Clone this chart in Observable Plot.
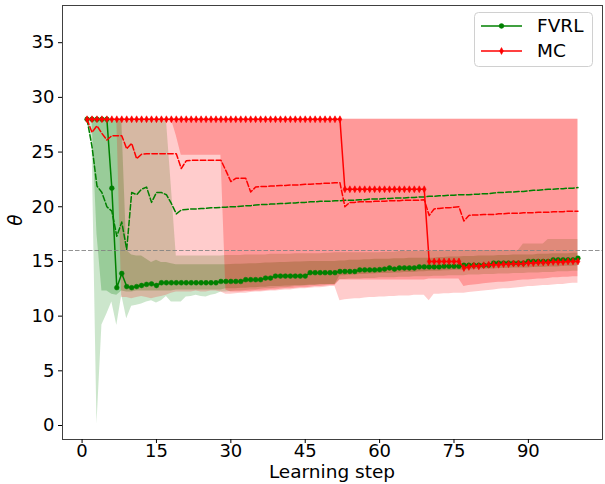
<!DOCTYPE html>
<html>
<head>
<meta charset="utf-8">
<script src="https://cdn.jsdelivr.net/npm/d3@7"></script>
<script src="https://cdn.jsdelivr.net/npm/@observablehq/plot@0.6"></script>
<style>
  html, body { margin: 0; padding: 0; background: #fff; }
  #chart { position: relative; width: 605px; height: 484px; }
</style>
</head>
<body>
<div id="chart"></div>
<script>
// Tick labels
const xTicks = [0, 15, 30, 45, 60, 75, 90];
const yTicks = [0, 5, 10, 15, 20, 25, 30, 35];
const threshold = 16;

// FVRL: median (solid), mean (dashed), outer and inner quantile bands
const fvrlMedian = [
  28, 28, 28, 28, 28, 21.7, 12.6, 13.9, 12.7, 12.6,
  12.7, 12.8, 12.9, 12.95, 12.8, 13.05, 13.05, 13.05, 13.05, 13.05,
  13.05, 13.05, 13.05, 13.05, 13.05, 13.05, 13.05, 13.17, 13.17, 13.17,
  13.17, 13.17, 13.33, 13.33, 13.33, 13.33, 13.48, 13.48, 13.66, 13.66,
  13.66, 13.66, 13.66, 13.66, 13.66, 13.97, 13.97, 13.97, 13.97, 13.97,
  13.97, 14.08, 14.08, 14.08, 14.08, 14.22, 14.22, 14.22, 14.22, 14.25,
  14.3, 14.4, 14.3, 14.4, 14.4, 14.4, 14.4, 14.5, 14.5, 14.5,
  14.5, 14.5, 14.55, 14.55, 14.55, 14.55, 14.65, 14.65, 14.65, 14.65,
  14.65, 14.65, 14.85, 14.85, 14.85, 14.85, 14.85, 14.85, 14.85, 15.0,
  15.0, 15.0, 15.0, 15.0, 15.15, 15.15, 15.15, 15.15, 15.15, 15.3
];
const fvrlMean = [
  28, 25.5, 21.9, 21.3, 20.0, 19.6, 17.3, 18.6, 16.1, 21.3,
  21.1, 21.6, 21.8, 20.4, 21.3, 21.3, 21.1, 20.3, 19.35, 19.7,
  19.75, 19.8, 19.8, 19.85, 19.85, 19.9, 19.9, 19.95, 19.95, 20.0,
  20.0, 20.05, 20.1, 20.1, 20.15, 20.2, 20.2, 20.25, 20.25, 20.3,
  20.3, 20.35, 20.35, 20.4, 20.4, 20.45, 20.45, 20.5, 20.5, 20.5,
  20.55, 20.55, 20.6, 20.6, 20.6, 20.65, 20.65, 20.7, 20.7, 20.7,
  20.75, 20.75, 20.8, 20.8, 20.8, 20.85, 20.85, 20.9, 20.9, 20.95,
  20.95, 21.0, 21.0, 21.05, 21.05, 21.1, 21.1, 21.1, 21.15, 21.15,
  21.2, 21.2, 21.25, 21.3, 21.3, 21.35, 21.35, 21.4, 21.4, 21.45,
  21.5, 21.5, 21.55, 21.6, 21.6, 21.65, 21.65, 21.7, 21.7, 21.75
];
const fvrlOuterHi = [
  28, 28, 28, 28, 28, 28, 28, 28, 28, 28,
  28, 28, 28, 28, 28, 28, 28, 21.8, 15.5, 15.5,
  15.5, 15.5, 15.5, 15.5, 15.5, 15.5, 15.5, 15.5, 15.55, 15.55,
  15.55, 15.55, 15.6, 15.6, 15.6, 15.6, 15.6, 15.65, 15.65, 15.65,
  15.65, 15.65, 15.7, 15.7, 15.7, 15.7, 15.7, 15.7, 15.75, 15.75,
  15.8, 15.8, 15.8, 15.8, 15.8, 15.8, 15.8, 15.8, 15.8, 15.8,
  15.85, 15.85, 15.85, 15.9, 15.9, 15.9, 15.9, 15.9, 15.9, 15.95,
  15.95, 15.95, 15.95, 15.95, 15.95, 16.0, 16.0, 16.0, 16.0, 16.0,
  16.0, 16.0, 16.0, 16.0, 16.0, 16.0, 16.0, 16.0, 16.6, 16.6,
  16.6, 16.6, 16.6, 17.0, 17.0, 17.0, 17.0, 17.0, 17.0, 17.0
];
const fvrlOuterLo = [
  28, 26, 0.11, 9.2, 10.2, 11.3, 9.15, 11.9, 9.75, 10.9,
  11.0, 11.1, 11.3, 11.4, 11.2, 11.4, 11.8, 11.3, 11.3, 11.3,
  11.75, 11.8, 11.9, 11.8, 11.75, 11.9, 12.0, 12.2, 12.2, 12.25,
  12.3, 12.3, 12.35, 12.4, 12.4, 12.45, 12.5, 12.5, 12.55, 12.6,
  12.6, 12.65, 12.7, 12.7, 12.75, 12.8, 12.8, 12.85, 12.85, 12.9,
  12.9, 13.35, 13.35, 13.4, 13.4, 13.4, 13.45, 13.45, 13.45, 13.5,
  13.5, 13.5, 13.5, 13.55, 13.55, 13.55, 13.6, 13.6, 13.6, 13.6,
  13.65, 13.65, 13.65, 13.7, 13.7, 13.7, 13.7, 13.75, 13.75, 13.75,
  13.8, 13.8, 13.8, 13.85, 13.85, 13.85, 13.9, 13.9, 13.9, 13.95,
  13.95, 13.95, 14.0, 14.0, 14.0, 14.05, 14.05, 14.05, 14.1, 14.1
];
const fvrlInnerHi = [
  28, 28, 28, 28, 28, 28, 28, 28, 16.0, 15.6,
  15.5, 15.5, 15.2, 14.9, 15.1, 14.9, 14.9, 14.8, 14.7, 14.7,
  14.7, 14.7, 14.7, 14.7, 14.7, 14.7, 14.7, 14.7, 14.7, 14.72,
  14.74, 14.75, 14.77, 14.8, 14.8, 14.82, 14.85, 14.85, 14.88, 14.9,
  14.9, 14.92, 14.95, 14.95, 14.97, 15.0, 15.0, 15.0, 15.0, 15.0,
  15.0, 15.05, 15.05, 15.1, 15.1, 15.1, 15.15, 15.15, 15.2, 15.2,
  15.2, 15.2, 15.25, 15.25, 15.25, 15.3, 15.3, 15.3, 15.3, 15.3,
  15.3, 15.35, 15.35, 15.4, 15.4, 15.4, 15.45, 15.45, 15.45, 15.5,
  15.5, 15.5, 15.5, 15.55, 15.55, 15.55, 15.6, 15.6, 15.6, 15.6,
  15.6, 15.65, 15.65, 15.65, 15.7, 15.7, 15.7, 15.7, 15.75, 15.75
];
const fvrlInnerLo = [
  28, 28, 17.5, 12.3, 12.3, 12.0, 11.9, 12.3, 12.2, 12.2,
  12.3, 12.3, 12.3, 12.3, 12.3, 12.3, 12.3, 12.3, 12.4, 12.4,
  12.4, 12.4, 12.4, 12.4, 12.4, 12.4, 12.4, 12.4, 12.5, 12.5,
  12.5, 12.55, 12.55, 12.6, 12.6, 12.65, 12.65, 12.7, 12.7, 12.7,
  12.75, 12.75, 12.8, 12.8, 12.8, 12.85, 12.85, 12.9, 12.9, 12.9,
  12.9, 13.7, 13.7, 13.75, 13.75, 13.8, 13.8, 13.85, 13.85, 13.9,
  13.9, 13.9, 13.95, 13.95, 14.0, 14.0, 14.0, 14.05, 14.05, 14.1,
  14.1, 14.1, 14.15, 14.15, 14.2, 14.2, 14.2, 14.25, 14.25, 14.3,
  14.3, 14.3, 14.3, 14.35, 14.35, 14.35, 14.4, 14.4, 14.4, 14.4,
  14.45, 14.45, 14.45, 14.5, 14.5, 14.5, 14.55, 14.55, 14.55, 14.6
];

// MC: median (solid), mean (dashed), outer and inner quantile bands
const mcMedian = [
  28, 28, 28, 28, 28, 28, 28, 28, 28, 28,
  28, 28, 28, 28, 28, 28, 28, 28, 28, 28,
  28, 28, 28, 28, 28, 28, 28, 28, 28, 28,
  28, 28, 28, 28, 28, 28, 28, 28, 28, 28,
  28, 28, 28, 28, 28, 28, 28, 28, 28, 28,
  28, 28, 21.6, 21.6, 21.6, 21.6, 21.6, 21.6, 21.6, 21.6,
  21.6, 21.6, 21.6, 21.6, 21.6, 21.6, 21.6, 21.6, 21.6, 15.0,
  15.0, 15.0, 15.0, 15.0, 15.0, 15.0, 14.4, 14.5, 14.6, 14.55,
  14.65, 14.7, 14.7, 14.7, 14.75, 14.75, 14.8, 14.8, 14.8, 14.85,
  14.85, 14.9, 14.9, 14.9, 14.95, 14.95, 14.95, 15.0, 15.0, 15.0
];
const mcMean = [
  28, 26.8, 27.4, 26.7, 26.1, 26.5, 26.5, 26.5, 25.3, 25.8,
  24.4, 24.8, 24.85, 24.85, 24.85, 24.85, 24.85, 24.85, 24.85, 23.5,
  24.2, 24.25, 24.25, 24.25, 24.25, 24.25, 24.25, 24.25, 23.3, 22.3,
  22.6, 22.6, 22.6, 21.35, 21.8, 21.85, 21.85, 21.9, 21.9, 21.95,
  21.95, 22.0, 22.0, 22.0, 22.05, 22.05, 22.1, 22.1, 22.15, 22.15,
  22.2, 22.2, 20.0, 20.4, 20.4, 20.45, 20.45, 20.45, 20.5, 20.5,
  20.5, 20.55, 20.55, 20.55, 20.6, 20.6, 20.6, 20.6, 20.65, 19.2,
  19.8, 19.85, 19.9, 19.9, 19.95, 20.0, 18.7, 19.2, 19.25, 19.25,
  19.3, 19.3, 19.3, 19.35, 19.35, 19.4, 19.4, 19.4, 19.45, 19.45,
  19.45, 19.5, 19.5, 19.5, 19.55, 19.55, 19.55, 19.6, 19.6, 19.6
];
const mcOuterHi = [
  28, 28, 28, 28, 28, 28, 28, 28, 28, 28,
  28, 28, 28, 28, 28, 28, 28, 28, 28, 28,
  28, 28, 28, 28, 28, 28, 28, 28, 28, 28,
  28, 28, 28, 28, 28, 28, 28, 28, 28, 28,
  28, 28, 28, 28, 28, 28, 28, 28, 28, 28,
  28, 28, 28, 28, 28, 28, 28, 28, 28, 28,
  28, 28, 28, 28, 28, 28, 28, 28, 28, 28,
  28, 28, 28, 28, 28, 28, 28, 28, 28, 28,
  28, 28, 28, 28, 28, 28, 28, 28, 28, 28,
  28, 28, 28, 28, 28, 28, 28, 28, 28, 28
];
const mcOuterLo = [
  28, 28, 28, 28, 28, 28, 28, 11.7, 11.7, 11.6,
  11.7, 11.8, 11.7, 11.6, 11.7, 11.8, 11.9, 12.1, 12.2, 12.2,
  12.2, 12.2, 12.3, 12.2, 12.2, 12.3, 12.3, 12.2, 12.0, 12.0,
  12.05, 12.1, 12.1, 12.15, 12.2, 12.2, 12.25, 12.3, 12.3, 12.35,
  12.4, 12.4, 12.45, 12.5, 12.5, 12.55, 12.6, 12.6, 12.65, 12.7,
  12.7, 11.4, 11.5, 11.55, 11.6, 11.6, 11.65, 11.7, 11.7, 11.75,
  11.75, 11.8, 11.8, 11.85, 11.85, 11.85, 11.9, 11.9, 11.9, 11.4,
  12.0, 12.0, 12.05, 12.05, 12.1, 12.1, 12.1, 12.15, 12.2, 12.25,
  12.3, 12.35, 12.4, 12.45, 12.5, 12.5, 12.55, 12.6, 12.65, 12.7,
  12.7, 12.75, 12.8, 12.8, 12.85, 12.9, 12.9, 12.95, 13.0, 13.0
];
const mcInnerHi = [
  28, 28, 28, 28, 28, 28, 28, 28, 28, 28,
  28, 28, 28, 28, 28, 28, 28, 28, 28, 28,
  28, 28, 28, 28, 28, 28, 28, 28, 28, 28,
  28, 28, 28, 28, 28, 28, 28, 28, 28, 28,
  28, 28, 28, 28, 28, 28, 28, 28, 28, 28,
  28, 28, 28, 28, 28, 28, 28, 28, 28, 28,
  28, 28, 28, 28, 28, 28, 28, 28, 28, 28,
  28, 28, 28, 28, 28, 28, 28, 28, 28, 28,
  28, 28, 28, 28, 28, 28, 28, 28, 28, 28,
  28, 28, 28, 28, 28, 28, 28, 28, 28, 28
];
const mcInnerLo = [
  28, 28, 28, 28, 28, 28, 28, 28, 28, 28,
  28, 28, 28, 28, 28, 28, 28, 28, 26.5, 24.7,
  24.7, 24.7, 24.7, 24.7, 24.7, 24.7, 24.7, 24.7, 12.4, 12.2,
  12.2, 12.2, 12.25, 12.25, 12.3, 12.3, 12.35, 12.4, 12.4, 12.45,
  12.5, 12.5, 12.55, 12.6, 12.6, 12.65, 12.7, 12.7, 12.75, 12.8,
  12.8, 13.3, 13.3, 13.3, 13.3, 13.3, 13.3, 13.3, 13.3, 13.3,
  13.3, 13.3, 13.3, 13.3, 13.3, 13.3, 13.3, 13.3, 13.3, 13.4,
  13.4, 13.4, 13.4, 13.4, 13.4, 13.4, 12.7, 12.8, 12.85, 12.9,
  12.95, 13.0, 13.05, 13.1, 13.1, 13.15, 13.2, 13.25, 13.3, 13.3,
  13.35, 13.4, 13.4, 13.45, 13.5, 13.5, 13.55, 13.55, 13.6, 13.6
];

const GREEN = "#008000";
const RED = "#ff0000";

// one row per learning step
const rows = fvrlMedian.map((_, i) => ({
  step: i + 1,
  fvrlMedian: fvrlMedian[i], fvrlMean: fvrlMean[i],
  fvrlOuterLo: fvrlOuterLo[i], fvrlOuterHi: fvrlOuterHi[i],
  fvrlInnerLo: fvrlInnerLo[i], fvrlInnerHi: fvrlInnerHi[i],
  mcMedian: mcMedian[i], mcMean: mcMean[i],
  mcOuterLo: mcOuterLo[i], mcOuterHi: mcOuterHi[i],
  mcInnerLo: mcInnerLo[i], mcInnerHi: mcInnerHi[i]
}));

// narrow diamond marker
const thinDiamond = {
  draw(context, size) {
    const r = Math.sqrt(size / Math.PI);
    const h = r * 1.15, w = r * 0.62;
    context.moveTo(0, -h);
    context.lineTo(w, 0);
    context.lineTo(0, h);
    context.lineTo(-w, 0);
    context.closePath();
  }
};

const dash = "5.5 2.4";

const chart = Plot.plot({
  width: 605,
  height: 484,
  marginLeft: 62,
  marginRight: 3,
  marginTop: 5,
  marginBottom: 45,
  style: { fontFamily: "DejaVu Sans", fontSize: "18px", color: "#000", background: "#fff" },
  x: { domain: [-3.95, 104.95] },
  y: { domain: [-1.28, 38.4] },
  marks: [
    Plot.areaY(rows, { x: "step", y1: "fvrlOuterLo", y2: "fvrlOuterHi", fill: GREEN, fillOpacity: 0.2 }),
    Plot.areaY(rows, { x: "step", y1: "fvrlInnerLo", y2: "fvrlInnerHi", fill: GREEN, fillOpacity: 0.25 }),
    Plot.areaY(rows, { x: "step", y1: "mcOuterLo", y2: "mcOuterHi", fill: RED, fillOpacity: 0.2 }),
    Plot.areaY(rows, { x: "step", y1: "mcInnerLo", y2: "mcInnerHi", fill: RED, fillOpacity: 0.25 }),
    Plot.line(rows, { x: "step", y: "fvrlMedian", stroke: GREEN, strokeWidth: 1.5 }),
    Plot.dot(rows, { x: "step", y: "fvrlMedian", r: 2.4, fill: GREEN, stroke: GREEN, strokeWidth: 0.5 }),
    Plot.line(rows, { x: "step", y: "fvrlMean", stroke: GREEN, strokeWidth: 1.5, strokeDasharray: dash }),
    Plot.line(rows, { x: "step", y: "mcMedian", stroke: RED, strokeWidth: 1.5 }),
    Plot.dot(rows, { x: "step", y: "mcMedian", r: 3, symbol: thinDiamond, fill: RED, stroke: RED, strokeWidth: 0.6 }),
    Plot.line(rows, { x: "step", y: "mcMean", stroke: RED, strokeWidth: 1.5, strokeDasharray: dash }),
    Plot.ruleY([threshold], { stroke: "#808080", strokeOpacity: 0.85, strokeWidth: 1.2, strokeDasharray: "4.5 2" }),
    Plot.frame({ stroke: "#404040", strokeWidth: 1 }),
    Plot.axisX({ ticks: xTicks, tickSize: 4, tickPadding: 0.5, label: null, fontSize: 18 }),
    Plot.axisY({ ticks: yTicks, tickSize: 4, tickPadding: 4, label: null, fontSize: 18 })
  ]
});

document.getElementById("chart").appendChild(chart);

// axis titles and legend
const svg = d3.select(chart);

svg.append("text")
  .attr("x", 332).attr("y", 478)
  .attr("text-anchor", "middle")
  .attr("font-family", "DejaVu Sans").attr("font-size", 18.5)
  .attr("fill", "#000")
  .text("Learning step");

svg.append("text")
  .attr("transform", "translate(22,220) rotate(-90)")
  .attr("text-anchor", "middle")
  .attr("font-family", "DejaVu Sans").attr("font-size", 18.5)
  .attr("font-style", "italic")
  .attr("fill", "#000")
  .text("θ");

const legend = svg.append("g");
legend.append("rect")
  .attr("x", 474.5).attr("y", 12.5).attr("width", 118).attr("height", 54)
  .attr("rx", 4).attr("fill", "#fff").attr("fill-opacity", 0.8)
  .attr("stroke", "#d0d0d0").attr("stroke-width", 1);

const entries = [
  { name: "FVRL", color: GREEN, y: 26, marker: "circle" },
  { name: "MC", color: RED, y: 51, marker: "diamond" }
];
for (const e of entries) {
  legend.append("line")
    .attr("x1", 481).attr("x2", 522).attr("y1", e.y).attr("y2", e.y)
    .attr("stroke", e.color).attr("stroke-width", 1.5);
  if (e.marker === "circle") {
    legend.append("circle").attr("cx", 501.5).attr("cy", e.y).attr("r", 2.4)
      .attr("fill", e.color).attr("stroke", e.color).attr("stroke-width", 0.5);
  } else {
    legend.append("path")
      .attr("d", d3.symbol(thinDiamond, 9 * Math.PI)())
      .attr("transform", `translate(501.5,${e.y})`)
      .attr("fill", e.color).attr("stroke", e.color).attr("stroke-width", 0.6);
  }
  legend.append("text")
    .attr("x", 537).attr("y", e.y).attr("dy", "0.35em")
    .attr("text-anchor", "start")
    .attr("font-family", "DejaVu Sans").attr("font-size", 18.5)
    .attr("fill", "#000")
    .text(e.name);
}
</script>
</body>
</html>
